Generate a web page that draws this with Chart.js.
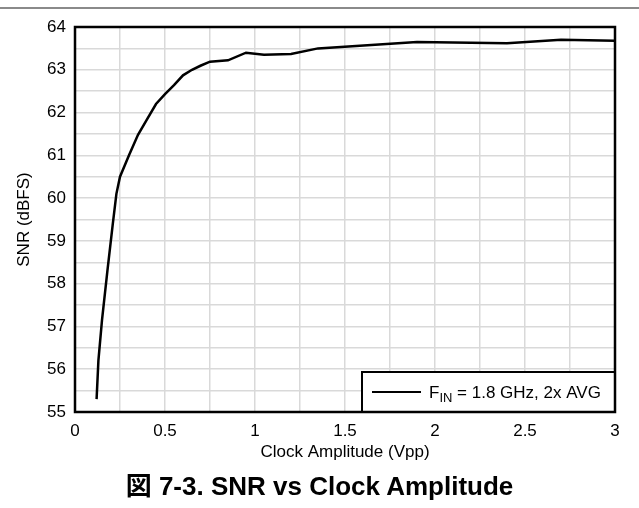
<!DOCTYPE html>
<html><head><meta charset="utf-8">
<script src="https://cdn.jsdelivr.net/npm/chart.js@4"></script>
<style>
html,body{margin:0;padding:0;background:#fff;}
#wrap{position:relative;width:639px;height:508px;overflow:hidden;}
#rule{position:absolute;left:0;top:7px;width:639px;height:2px;background:#8a8a8a;}
#cv{position:absolute;left:0;top:0;}
#cap{position:absolute;left:0;width:639px;top:470px;line-height:32px;text-align:center;font-weight:bold;font-size:26px;font-family:"Liberation Sans","Noto Sans CJK JP",Arial,sans-serif;color:#000;}
</style></head>
<body>
<div id="wrap">
<canvas id="cv" width="639" height="508"></canvas>
<div id="rule"></div>
<div id="cap">図 7-3. SNR vs Clock Amplitude</div>
</div>
<script>
// ---- data ----
const clockAmplitude = [0.12, 0.13, 0.15, 0.18, 0.21, 0.23, 0.25, 0.30, 0.35, 0.40, 0.45, 0.50, 0.55, 0.60, 0.65, 0.70, 0.75, 0.85, 0.95, 1.05, 1.20, 1.35, 1.90, 2.40, 2.70, 3.00];
const snrValues      = [55.3, 56.2, 57.15, 58.3, 59.4, 60.1, 60.5, 61.0, 61.48, 61.84, 62.2, 62.43, 62.64, 62.87, 63.0, 63.1, 63.19, 63.22, 63.4, 63.35, 63.37, 63.5, 63.65, 63.62, 63.7, 63.68];
const xTickValues = [0, 0.5, 1, 1.5, 2, 2.5, 3];
const xTickLabels = ['0', '0.5', '1', '1.5', '2', '2.5', '3'];
const yTickValues = [55, 56, 57, 58, 59, 60, 61, 62, 63, 64];
const yTickLabels = ['55', '56', '57', '58', '59', '60', '61', '62', '63', '64'];
const legendMain = 'F';
const legendSub = 'IN';
const legendRest = ' = 1.8 GHz, 2x AVG';
const xTitle = 'Clock Amplitude (Vpp)';
const yTitle = 'SNR (dBFS)';

const FONT = '"Liberation Sans", Arial, sans-serif';
const FS = 17;

const framePlugin = {
  id: 'frame',
  afterDraw(chart) {
    const {ctx, chartArea: a} = chart;
    ctx.save();
    // legend box
    const lx = 362, ly = 372, lr = a.right, lb = a.bottom;
    ctx.fillStyle = '#fff';
    ctx.fillRect(lx, ly, lr - lx, lb - ly);
    ctx.strokeStyle = '#000';
    ctx.lineWidth = 2;
    ctx.strokeRect(lx, ly, lr - lx, lb - ly);
    const cy = (ly + lb) / 2;
    ctx.lineWidth = 2;
    ctx.beginPath(); ctx.moveTo(372, cy); ctx.lineTo(421, cy); ctx.stroke();
    ctx.fillStyle = '#000';
    ctx.textBaseline = 'alphabetic';
    ctx.textAlign = 'left';
    const base = cy + 6;
    ctx.font = FS + 'px ' + FONT;
    let x = 429;
    ctx.fillText(legendMain, x, base);
    x += ctx.measureText(legendMain).width;
    ctx.font = '13px ' + FONT;
    ctx.fillText(legendSub, x, base + 4);
    x += ctx.measureText(legendSub).width;
    ctx.font = FS + 'px ' + FONT;
    ctx.fillText(legendRest, x, base);
    // frame
    ctx.lineWidth = 2.5;
    ctx.strokeStyle = '#000';
    ctx.strokeRect(a.left, a.top, a.right - a.left, a.bottom - a.top);
    ctx.restore();
  }
};

new Chart(document.getElementById('cv'), {
  type: 'line',
  data: {
    datasets: [{
      label: legendMain + legendSub + legendRest,
      data: clockAmplitude.map((x, i) => ({x, y: snrValues[i]})),
      borderColor: '#000',
      borderWidth: 2.5,
      pointRadius: 0,
      tension: 0,
      fill: false
    }]
  },
  options: {
    responsive: false,
    animation: false,
    devicePixelRatio: 1,
    layout: {padding: {left: 0, right: 24, top: 27, bottom: 45}},
    plugins: {legend: {display: false}, tooltip: {enabled: false}, title: {display: false}},
    scales: {
      x: {
        type: 'linear', min: 0, max: 3,
        afterFit(s) { s.height = 51; },
        ticks: {
          stepSize: 0.25, autoSkip: false, maxRotation: 0, padding: 9,
          color: '#000', font: {family: FONT, size: FS},
          callback(v) { const i = xTickValues.findIndex(t => Math.abs(t - v) < 1e-6); return i >= 0 ? xTickLabels[i] : ''; }
        },
        grid: {color: '#d9d9d9', lineWidth: 1.5, drawTicks: false},
        border: {display: false},
        title: {display: true, text: xTitle, color: '#000', font: {family: FONT, size: FS}, padding: {top: 0, bottom: 0}}
      },
      y: {
        type: 'linear', min: 55, max: 64,
        afterFit(s) { s.width = 75; },
        ticks: {
          stepSize: 0.5, autoSkip: false, padding: 9,
          color: '#000', font: {family: FONT, size: FS},
          callback(v) { const i = yTickValues.findIndex(t => Math.abs(t - v) < 1e-6); return i >= 0 ? yTickLabels[i] : ''; }
        },
        grid: {color: '#d9d9d9', lineWidth: 1.5, drawTicks: false},
        border: {display: false},
        title: {display: true, text: yTitle, color: '#000', font: {family: FONT, size: FS}, padding: {top: 14, bottom: 0}}
      }
    }
  },
  plugins: [framePlugin]
});
</script>
</body></html>
